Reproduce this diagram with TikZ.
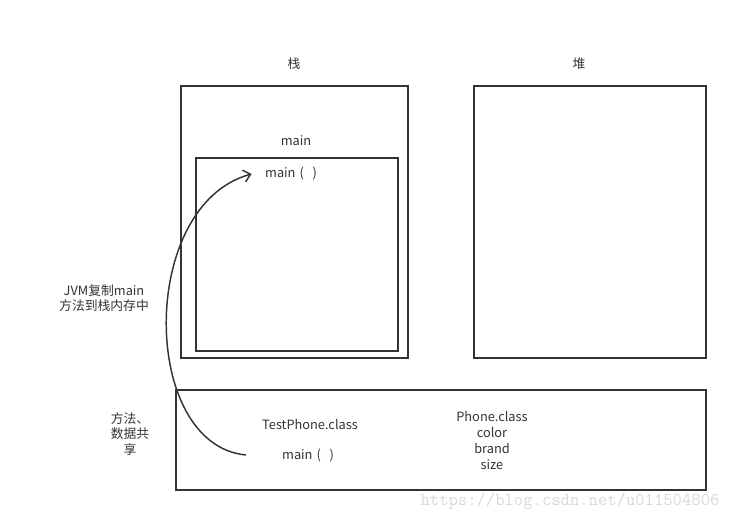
\documentclass[tikz,border=0pt]{standalone}
\usepackage{fontspec}
\setmainfont{Noto Sans CJK SC}
\definecolor{mInk}{HTML}{333333}
\definecolor{mMark}{HTML}{D8D8D8}
\usetikzlibrary{arrows.meta,positioning}
\newcommand{\mcall}{main\hspace{3pt}(\hspace{6.5pt})}
\tikzset{
  memarea/.style={draw=mInk, line width=1.3pt},
  lbl/.style={font=\fontsize{9.6}{11.4}\selectfont, text=mInk, align=center, inner sep=1pt},
}
\begin{document}
\begin{tikzpicture}[x=0.75pt, y=-0.75pt]
\useasboundingbox (0,0) rectangle (738,522);
% stack, heap and method area
\draw[memarea] (181,86) rectangle (408,358);
\draw[memarea] (196,158) rectangle (398,351);
\draw[memarea] (474,86) rectangle (706,358);
\draw[memarea] (176,390) rectangle (706,490);
\node[lbl] (stacklbl) at (294,64) {栈};
\node[lbl] (heaplbl) at (579,64) {堆};
\node[lbl] (framelbl) at (296,141) {main};
\node[lbl] (maincall) at (291,174) {\mcall};
\node[lbl] (copylbl) at (104,298) {JVM复制main\\方法到栈内存中};
\node[lbl] (sharelbl) at (130,434) {方法、\\数据共\\享};
\node[lbl] (testcls) at (310,424) {TestPhone.class};
\node[lbl] (mainsrc) at (308,456) {\mcall};
\node[lbl, font=\fontsize{9.6}{12}\selectfont] (phonecls) at (492,440) {Phone.class\\color\\brand\\size};
\node[font=\fontsize{13.6}{15}\selectfont\ttfamily, text=mMark] (wmark) at (570,501) {https://blog.csdn.net/u011504806};
\coordinate (arrstart) at (246,455);
\draw[-{Straight Barb[length=5pt,width=9pt]}, mInk, line width=1.1pt]
  (arrstart) .. controls (140,445) and (138,205) .. ([xshift=-9pt]maincall.west);
\end{tikzpicture}
\end{document}
